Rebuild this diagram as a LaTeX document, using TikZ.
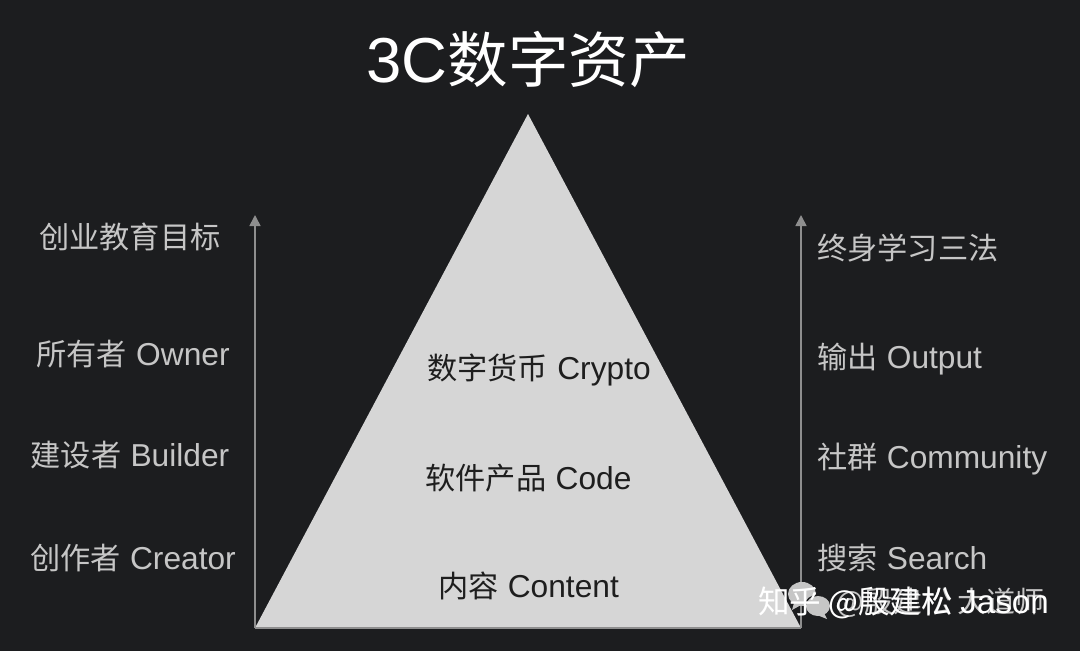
\documentclass[tikz,border=0pt]{standalone}
\usepackage{fontspec}
\setmainfont{Noto Sans CJK SC}
\newfontfamily\latfont{Liberation Sans}[Scale=1.05]
\newcommand{\lat}[1]{\kern2.5pt{\latfont #1}}
\definecolor{bgdark}{HTML}{1C1D1F}
\definecolor{pyramidgray}{HTML}{D6D6D6}
\definecolor{sidegray}{HTML}{C6C6C6}
\definecolor{arrowgray}{HTML}{8E8E8E}
\definecolor{inkdark}{HTML}{1E1E1E}
\usetikzlibrary{arrows.meta}
\tikzset{
  sidelabel/.style={anchor=west, inner sep=0pt, text=sidegray, font=\fontsize{30.2}{30}\selectfont},
  midlabel/.style={inner sep=0pt, text=inkdark, font=\fontsize{30.2}{30}\selectfont},
  marklabel/.style={inner sep=0pt, text=white, font=\fontsize{31.6}{32}\selectfont},
  upline/.style={draw=arrowgray, line width=1.6pt, -{Triangle[length=11pt,width=11pt]}}
}
\begin{document}
\begin{tikzpicture}[x=1pt, y=-1pt]
\fill[bgdark] (0, 0) rectangle (1080, 651);
\useasboundingbox (0, 0) rectangle (1080, 651);
\coordinate (apex) at (528, 114);
\coordinate (baseL) at (255, 628);
\coordinate (baseR) at (801, 628);
\coordinate (leftTop) at (255, 215);
\coordinate (rightTop) at (801, 215);
\fill[pyramidgray] (apex) -- (baseR) -- (baseL) -- cycle;
\draw[arrowgray, line width=1.6pt] (baseL) -- (baseR);
\foreach \from/\to in {baseL/leftTop, baseR/rightTop}
\draw[upline] (\from) -- (\to);
% bubbles under the mark
\fill[sidegray] (802, 594) ellipse (14 and 12);
\fill[sidegray] (794, 603) -- (792, 610) -- (801, 605) -- cycle;
\fill[bgdark] (818, 606) ellipse (13.5 and 11.5);
\fill[sidegray] (818, 606) ellipse (12 and 10);
\fill[sidegray] (824, 613) -- (827, 619) -- (817, 615) -- cycle;
\node[inner sep=0pt, text=white, font=\fontsize{60.5}{60}\selectfont] (title) at (528, 60) {{\latfont 3C}数字资产};
\node[sidelabel, anchor=center] (goal) at (130, 237) {创业教育目标};
\node[sidelabel, anchor=center] (owner) at (133, 354) {所有者 \lat{Owner}};
\node[sidelabel, anchor=center] (builder) at (130, 455) {建设者 \lat{Builder}};
\node[sidelabel, anchor=center] (creator) at (133, 558) {创作者 \lat{Creator}};
\node[sidelabel] (method) at (817, 248) {终身学习三法};
\node[sidelabel] (output) at (817, 359) {输出 \lat{Output}};
\node[sidelabel] (community) at (817, 459) {社群 \lat{Community}};
\node[sidelabel] (search) at (817, 558) {搜索 \lat{Search}};
\node[midlabel] (crypto) at (539, 370) {数字货币 \lat{Crypto}};
\node[midlabel] (code) at (528.5, 478) {软件产品 \lat{Code}};
\node[midlabel] (content) at (528.5, 586) {内容 \lat{Content}};
\node[marklabel, anchor=east, text=sidegray, font=\fontsize{29}{29}\selectfont] (markB) at (1045, 603) {@殷建松 大道师};
\node[marklabel, anchor=west] (markA) at (758, 603) {知乎 @殷建松 {\latfont Jason}};
\end{tikzpicture}
\end{document}
